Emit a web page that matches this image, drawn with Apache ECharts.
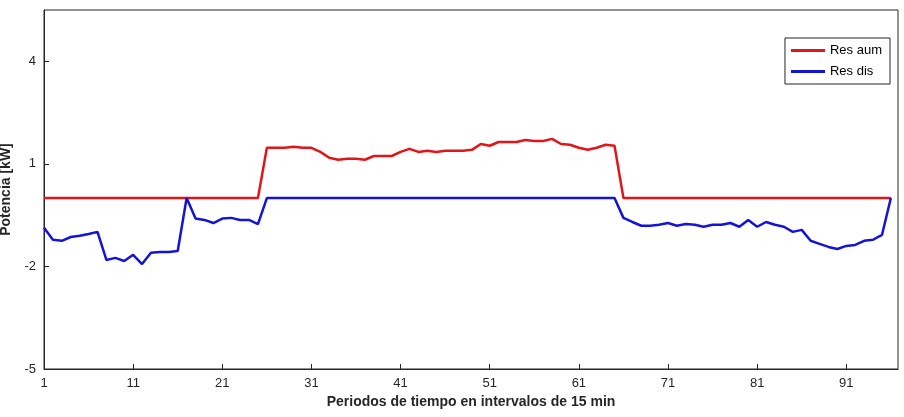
<!DOCTYPE html>
<html><head><meta charset="utf-8">
<script src="https://cdn.jsdelivr.net/npm/echarts@6/dist/echarts.min.js"></script>
<style>html,body{margin:0;background:#fff}#c{width:904px;height:417px}</style>
</head><body><div id="c"></div>
<script>
const periods = Array.from({length: 96}, (_, i) => i + 1);
const resAum = [0,0,0,0,0,0,0,0,0,0,0,0,0,0,0,0,0,0,0,0,0,0,0,0,0,
1.47,1.47,1.47,1.5,1.47,1.47,1.35,1.18,1.12,1.15,1.15,1.12,1.23,1.23,1.23,1.35,1.44,1.35,1.38,1.35,1.38,1.38,1.38,1.41,1.58,1.53,1.64,1.64,1.64,1.7,1.67,1.67,1.73,1.58,1.56,1.47,1.41,1.47,1.56,1.53,
0,0,0,0,0,0,0,0,0,0,0,0,0,0,0,0,0,0,0,0,0,0,0,0,0,0,0,0,0,0,0];
const resDis = [-0.87,-1.22,-1.25,-1.14,-1.1,-1.05,-0.99,-1.81,-1.75,-1.84,-1.66,-1.93,-1.6,-1.58,-1.58,-1.55,0,-0.6,-0.64,-0.73,-0.6,-0.58,-0.64,-0.64,-0.76,
0,0,0,0,0,0,0,0,0,0,0,0,0,0,0,0,0,0,0,0,0,0,0,0,0,0,0,0,0,0,0,0,0,0,0,0,0,0,0,0,
-0.58,-0.7,-0.81,-0.81,-0.78,-0.73,-0.81,-0.76,-0.78,-0.84,-0.78,-0.78,-0.73,-0.84,-0.64,-0.84,-0.7,-0.78,-0.84,-0.99,-0.93,-1.25,-1.34,-1.43,-1.49,-1.4,-1.37,-1.25,-1.22,-1.08,0];
const font = 'Liberation Sans, Arial, sans-serif';
const chart = echarts.init(document.getElementById('c'));
chart.setOption({
  animation: false,
  grid: {left: 44, right: 6, top: 10, bottom: 48, containLabel: false, outerBoundsMode: 'none', show: true, borderColor: '#262626', borderWidth: 1},
  legend: {
    right: 14, top: 38, orient: 'vertical', itemWidth: 34, itemHeight: 3, itemGap: 8,
    padding: [6, 8, 6, 6], borderColor: '#262626', borderWidth: 1, backgroundColor: '#fff',
    icon: 'rect', textStyle: {fontFamily: font, fontSize: 13, color: '#000'},
    data: ['Res aum', 'Res dis']
  },
  xAxis: {
    type: 'value', min: 1, max: 96.8, interval: 10,
    name: 'Periodos de tiempo en intervalos de 15 min', nameLocation: 'middle', nameGap: 26,
    nameTextStyle: {fontFamily: font, fontSize: 14, fontWeight: 'bold', color: '#262626'},
    axisLine: {onZero: false, lineStyle: {color: '#262626'}}, axisTick: {inside: true, length: 5, lineStyle: {color: '#262626'}},
    axisLabel: {fontFamily: font, fontSize: 13, color: '#262626', showMaxLabel: false},
    splitLine: {show: false}
  },
  yAxis: {
    type: 'value', min: -5, max: 5.5, interval: 3,
    name: 'Potencia [kW]', nameLocation: 'middle', nameGap: 28,
    nameTextStyle: {fontFamily: font, fontSize: 14, fontWeight: 'bold', color: '#262626'},
    axisLine: {show: true, onZero: false, lineStyle: {color: '#262626'}}, axisTick: {show: true, inside: true, length: 5, lineStyle: {color: '#262626'}},
    axisLabel: {fontFamily: font, fontSize: 13, color: '#262626', showMaxLabel: false},
    splitLine: {show: false}
  },
  series: [
    {name: 'Res aum', type: 'line', data: periods.map((p, i) => [p, resAum[i]]), showSymbol: false,
     lineStyle: {color: '#e0161b', width: 2.5}, itemStyle: {color: '#e0161b'}},
    {name: 'Res dis', type: 'line', data: periods.map((p, i) => [p, resDis[i]]), showSymbol: false,
     lineStyle: {color: '#1414d4', width: 2.5}, itemStyle: {color: '#1414d4'}}
  ]
});
</script></body></html>
